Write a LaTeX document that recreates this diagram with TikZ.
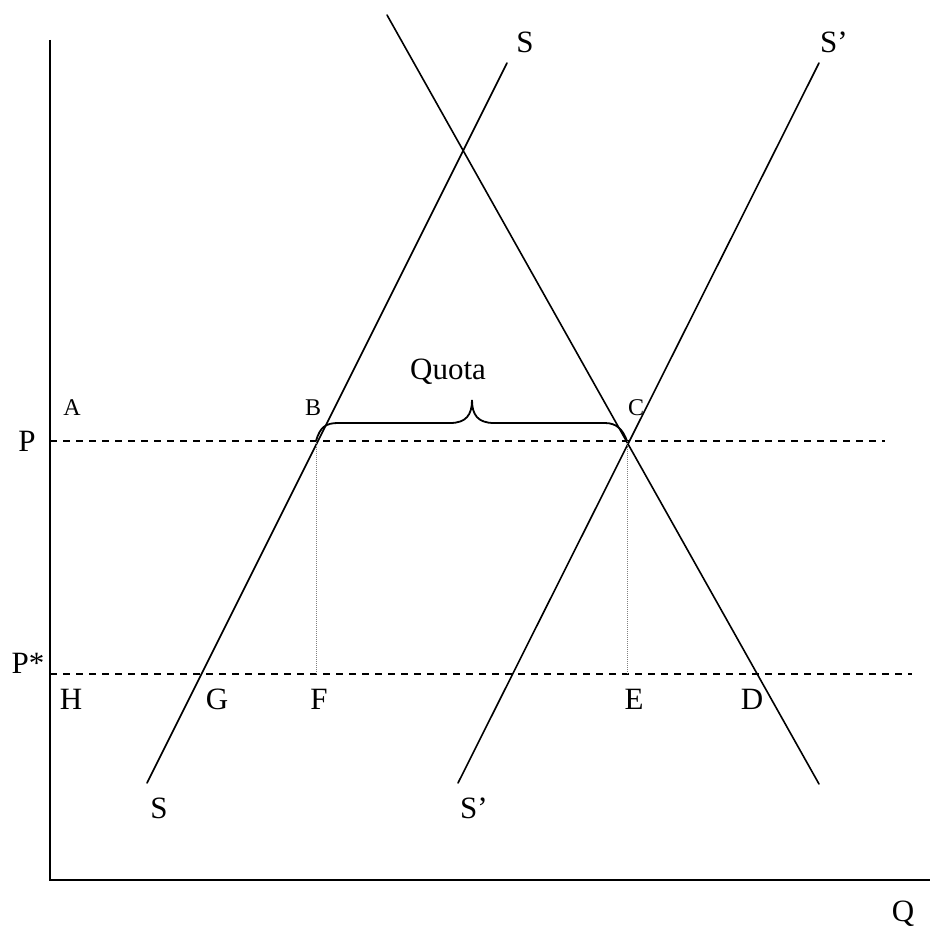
\documentclass[tikz,border=0pt]{standalone}
\usepackage{fontspec}
\setmainfont{Liberation Serif}
\begin{document}
\begin{tikzpicture}[x=1pt,y=-1pt,
  curve/.style={line width=1.6pt,line cap=round},
  axis/.style={line width=1.8pt},
  pline/.style={line width=1.6pt,dash pattern=on 7pt off 6pt},
  guide/.style={line width=0.8pt,gray,dash pattern=on 1pt off 1pt},
  big/.style={inner sep=0pt,font=\fontsize{31}{31}\selectfont},
  small/.style={inner sep=0pt,font=\fontsize{24}{24}\selectfont}]
\useasboundingbox (0,0) rectangle (930,933);
% axes
\coordinate (ytop) at (50,40);
\coordinate (origin) at (50,880);
\coordinate (xend) at (930,880);
\draw[axis] (ytop) -- (origin) -- (xend);
% price lines
\coordinate (Pl) at (50,441);
\coordinate (Pr) at (885,441);
\coordinate (Psl) at (50,674);
\coordinate (Psr) at (912,674);
\draw[pline] (Pl) -- (Pr);
\draw[pline] (Psl) -- (Psr);
% curves
\coordinate (Dt) at (387,15);
\coordinate (Db) at (819,784);
\coordinate (St) at (507,63);
\coordinate (Sb) at (147,783);
\coordinate (Spt) at (819,63);
\coordinate (Spb) at (458,783);
\draw[curve] (Dt) -- (Db);
\draw[curve] (Sb) -- (St);
\draw[curve] (Spb) -- (Spt);
% guides
\coordinate (Bp) at (316,441);
\coordinate (Fp) at (316,674);
\coordinate (Cp) at (627,441);
\coordinate (Ep) at (627,674);
\draw[guide] (Bp) -- (Fp);
\draw[guide] (Cp) -- (Ep);
% brace
\coordinate (tip) at (472,400);
\draw[line width=1.8pt] (Bp) .. controls (320,427) and (326,423) .. (338,423)
  -- (450,423) .. controls (466,423) and (472,415) .. (tip)
  .. controls (472,415) and (478,423) .. (494,423)
  -- (605,423) .. controls (617,423) and (623,430) .. (Cp);
% labels
\node[big] (quota) at (448,372) {Quota};
\node[big] (lP) at (27,441) {P};
\node[big] (lPs) at (28,663) {P*};
\node[small] (lA) at (72,408) {A};
\node[small] (lB) at (313,408) {B};
\node[small] (lC) at (636,408) {C};
\node[big] (lH) at (71,699) {H};
\node[big] (lG) at (217,699) {G};
\node[big] (lF) at (319,699) {F};
\node[big] (lE) at (634,699) {E};
\node[big] (lD) at (752,699) {D};
\node[big] (lSt) at (525,42) {S};
\node[big] (lSpt) at (834,42) {S’};
\node[big] (lSb) at (159,808) {S};
\node[big] (lSpb) at (474,808) {S’};
\node[big] (lQ) at (903,914) {Q};
\end{tikzpicture}
\end{document}
